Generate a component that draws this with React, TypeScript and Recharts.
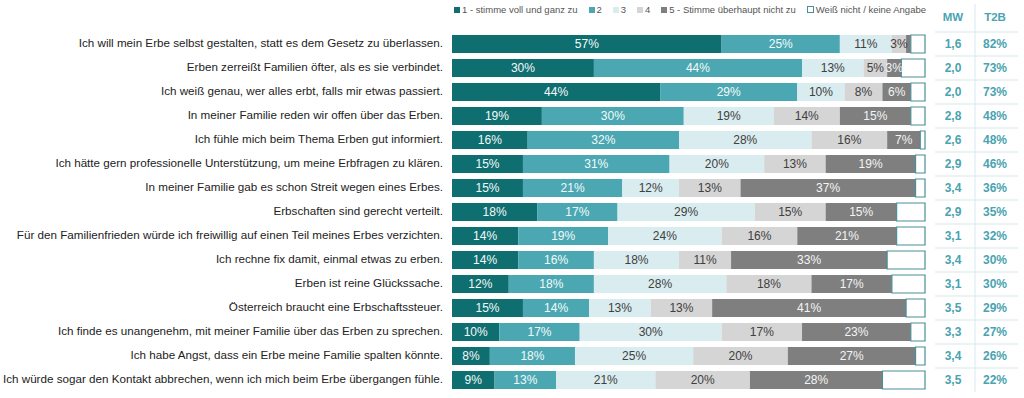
import React from 'react'
import { BarChart, Bar, XAxis, YAxis, LabelList } from 'recharts'

const statements = [
  'Ich will mein Erbe selbst gestalten, statt es dem Gesetz zu überlassen.',
  'Erben zerreißt Familien öfter, als es sie verbindet.',
  'Ich weiß genau, wer alles erbt, falls mir etwas passiert.',
  'In meiner Familie reden wir offen über das Erben.',
  'Ich fühle mich beim Thema Erben gut informiert.',
  'Ich hätte gern professionelle Unterstützung, um meine Erbfragen zu klären.',
  'In meiner Familie gab es schon Streit wegen eines Erbes.',
  'Erbschaften sind gerecht verteilt.',
  'Für den Familienfrieden würde ich freiwillig auf einen Teil meines Erbes verzichten.',
  'Ich rechne fix damit, einmal etwas zu erben.',
  'Erben ist reine Glückssache.',
  'Österreich braucht eine Erbschaftssteuer.',
  'Ich finde es unangenehm, mit meiner Familie über das Erben zu sprechen.',
  'Ich habe Angst, dass ein Erbe meine Familie spalten könnte.',
  'Ich würde sogar den Kontakt abbrechen, wenn ich mich beim Erbe übergangen fühle.',
]

const s1 = [57, 30, 44, 19, 16, 15, 15, 18, 14, 14, 12, 15, 10, 8, 9]
const s2 = [25, 44, 29, 30, 32, 31, 21, 17, 19, 16, 18, 14, 17, 18, 13]
const s3 = [11, 13, 10, 19, 28, 20, 12, 29, 24, 18, 28, 13, 30, 25, 21]
const s4 = [3, 5, 8, 14, 16, 13, 13, 15, 16, 11, 18, 13, 17, 20, 20]
const s5 = [1, 3, 6, 15, 7, 19, 37, 15, 21, 33, 17, 41, 23, 27, 28]
const weissNicht = [3, 5, 3, 3, 1, 2, 2, 6, 6, 8, 7, 4, 3, 2, 9]

const mw = ['1,6', '2,0', '2,0', '2,8', '2,6', '2,9', '3,4', '2,9', '3,1', '3,4', '3,1', '3,5', '3,3', '3,4', '3,5']
const t2b = ['82%', '73%', '73%', '48%', '48%', '46%', '36%', '35%', '32%', '30%', '30%', '29%', '27%', '26%', '22%']

const seriesKeys = ['s1', 's2', 's3', 's4', 's5']
const seriesNames = ['1 - stimme voll und ganz zu', '2', '3', '4', '5 - Stimme überhaupt nicht zu']
const seriesColors = ['#0f6e70', '#4ba8b3', '#d9ecef', '#d5d5d5', '#7f7f7f']
const labelColors = ['#f4fafa', '#f4fafa', '#404040', '#404040', '#f4f4f4']
const teal = '#4aa3b0'
const FONT = '"Liberation Sans", Arial, sans-serif'

const data = statements.map((label, i) => ({
  label,
  s1: s1[i],
  s2: s2[i],
  s3: s3[i],
  s4: s4[i],
  s5: s5[i],
  wn: weissNicht[i],
}))

function makeValueLabel(color: string) {
  return (props: any) => {
    const { x = 0, y = 0, width = 0, height = 0, value } = props
    if (value < 3) return null
    return (
      <text x={x + width / 2} y={y + height / 2 + 0.5} fill={color} fontSize={12} fontFamily={FONT}
        textAnchor="middle" dominantBaseline="middle">{value}%</text>
    )
  }
}

// MW / T2B columns, placed right of the last stacked segment
function renderSideColumns(props: any) {
  const { x = 0, y = 0, width = 0, height = 0, index } = props
  const end = x + width
  const top = y - 3
  const bottom = y + height + 3
  return (
    <g>
      {index === 0 ? (
        <g>
          <line x1={end + 50} x2={end + 50} y1={top - 28} y2={top} stroke="#d6e9ec" strokeWidth={1} />
          <text x={end + 28} y={top - 14} fill={teal} fontWeight={700} fontSize={11.5} fontFamily={FONT}
            textAnchor="middle" dominantBaseline="middle">MW</text>
          <text x={end + 70} y={top - 14} fill={teal} fontWeight={700} fontSize={11.5} fontFamily={FONT}
            textAnchor="middle" dominantBaseline="middle">T2B</text>
        </g>
      ) : null}
      <line x1={end + 10} x2={end + 93} y1={top} y2={top} stroke="#d6e9ec" strokeWidth={1.2} />
      <line x1={end + 50} x2={end + 50} y1={top} y2={bottom} stroke="#d6e9ec" strokeWidth={1} />
      <text x={end + 28} y={y + height / 2 + 0.5} fill={teal} fontWeight={700} fontSize={12} fontFamily={FONT}
        textAnchor="middle" dominantBaseline="middle">{mw[index]}</text>
      <text x={end + 70} y={y + height / 2 + 0.5} fill={teal} fontWeight={700} fontSize={12} fontFamily={FONT}
        textAnchor="middle" dominantBaseline="middle">{t2b[index]}</text>
    </g>
  )
}

function StatementTick(props: any) {
  const { x, y, payload } = props
  return (
    <text x={x - 1} y={y} fill="#222" fontSize={11.65} fontFamily={FONT} textAnchor="end" dominantBaseline="middle">
      {payload.value}
    </text>
  )
}

function TopLegend() {
  return (
    <div style={{ position: 'absolute', left: 454, top: 4, width: 472, display: 'flex', justifyContent: 'space-between',
      fontFamily: FONT, fontSize: 9.5, color: '#555', whiteSpace: 'nowrap' }}>
      {seriesNames.map((n, i) => (
        <div key={i} style={{ display: 'flex', alignItems: 'center', gap: 2 }}>
          <div style={{ width: 6, height: 6, background: seriesColors[i] }} />
          <span>{n}</span>
        </div>
      ))}
      <div style={{ display: 'flex', alignItems: 'center', gap: 2 }}>
        <div style={{ width: 5, height: 5, border: '1px solid #4a8f98', background: '#fff' }} />
        <span>Weiß nicht / keine Angabe</span>
      </div>
    </div>
  )
}

export default function App() {
  return (
    <div style={{ position: 'absolute', left: 0, top: 0, width: 1024, height: 398, background: '#fff' }}>
      <BarChart width={1024} height={398} data={data} layout="vertical" barSize={18}
        margin={{ top: 32, right: 99, left: 0, bottom: 6 }}>
        <XAxis type="number" domain={[0, 100]} hide />
        <YAxis type="category" dataKey="label" width={452} axisLine={false} tickLine={false} tick={<StatementTick />} />
        {seriesKeys.map((k, i) => (
          <Bar key={k} dataKey={k} stackId="a" fill={seriesColors[i]} isAnimationActive={false}>
            <LabelList dataKey={k} content={makeValueLabel(labelColors[i])} />
          </Bar>
        ))}
        <Bar dataKey="wn" stackId="a" fill="#ffffff" stroke="#4a8f98" strokeWidth={1.2} isAnimationActive={false}>
          <LabelList dataKey="wn" content={renderSideColumns} />
        </Bar>
      </BarChart>
      <TopLegend />
    </div>
  )
}
